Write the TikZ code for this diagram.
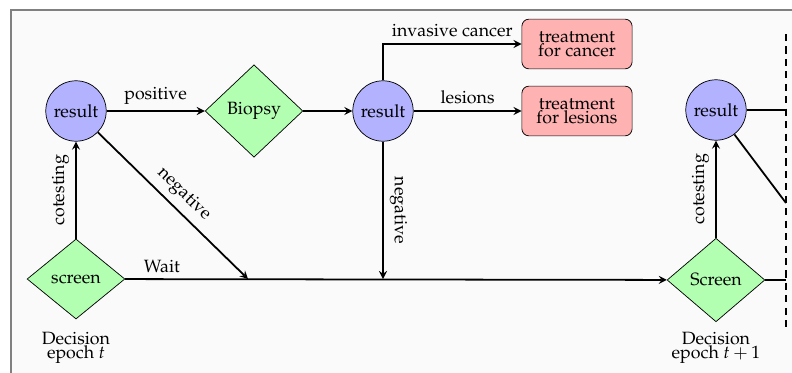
\documentclass[tikz,border=0pt]{standalone}
\usepackage[T1]{fontenc}
\usepackage{mathpazo}
\usepackage{tikz}
\usetikzlibrary{shapes,arrows,positioning}

\begin{document}
\begin{tikzpicture}[
    x=0.5625pt, y=-0.5625pt,
    chance/.style={circle, draw, fill=blue!30, minimum size=34pt, inner sep=0pt},
    decision/.style={diamond, draw, fill=green!30, inner sep=0pt, minimum width=55pt, minimum height=45pt},
    outcome/.style={rectangle, draw, rounded corners=4pt, fill=red!30, minimum width=62pt, minimum height=28pt, align=center, font=\fontsize{10}{7.7}\selectfont},
    epoch/.style={align=center, font=\fontsize{10}{7.9}\selectfont},
    arrow/.style={->, >=stealth, line width=1pt},
    line/.style={line width=1pt}
]

\clip (0,0) rectangle (792,373);
\draw[gray, line width=0.75pt, fill=black!2] (11,10) rectangle (810,390);

% decision epoch t
\node[decision] (screen) at (76,279) {screen};
\node[chance] (res1) at (76,111) {result};
\node[decision, minimum height=52pt] (biopsy) at (254,111) {Biopsy};
\node[chance] (res2) at (383,111) {result};
\node[outcome] (cancer) at (577,44) {treatment\\for cancer};
\node[outcome] (lesions) at (577,111) {treatment\\for lesions};
\node[epoch] (epoch1) at (76,348) {Decision\\epoch $t$};

% decision epoch t+1
\node[decision, minimum height=47pt] (screen2) at (716,280) {Screen};
\node[chance] (res3) at (716,110) {result};
\node[epoch] (epoch2) at (716,348) {Decision\\epoch $t+1$};

\coordinate (join) at (248,279);
\coordinate (cuttop) at (786,34);
\coordinate (cutbot) at (786,328);
\coordinate (cutneg) at (786,203);

\draw[arrow] (screen) -- node[sloped, above] {cotesting} (res1);
\draw[arrow] (res1) -- node[above] {positive} (biopsy);
\draw[arrow] (res1) -- node[sloped, above] {negative} (join);
\draw[arrow] (biopsy) -- (res2);
\draw[arrow] (res2) |- node[pos=0.75, above] {invasive cancer} (cancer);
\draw[arrow] (res2) -- node[above] {lesions} (lesions);
\draw[arrow] (res2) -- node[sloped, above] {negative} (res2 |- screen);
\draw[arrow] (screen) -- node[pos=0.068, above] {Wait} (screen2);

\draw[arrow] (screen2) -- node[sloped, above] {cotesting} (res3);
\draw[line] (res3) -- (res3 -| cuttop);
\draw[line] (res3) -- (cutneg);
\draw[line] (screen2) -- (screen2 -| cuttop);
\draw[line, dash pattern=on 4pt off 3pt] (cuttop) -- (cutbot);

\end{tikzpicture}
\end{document}
